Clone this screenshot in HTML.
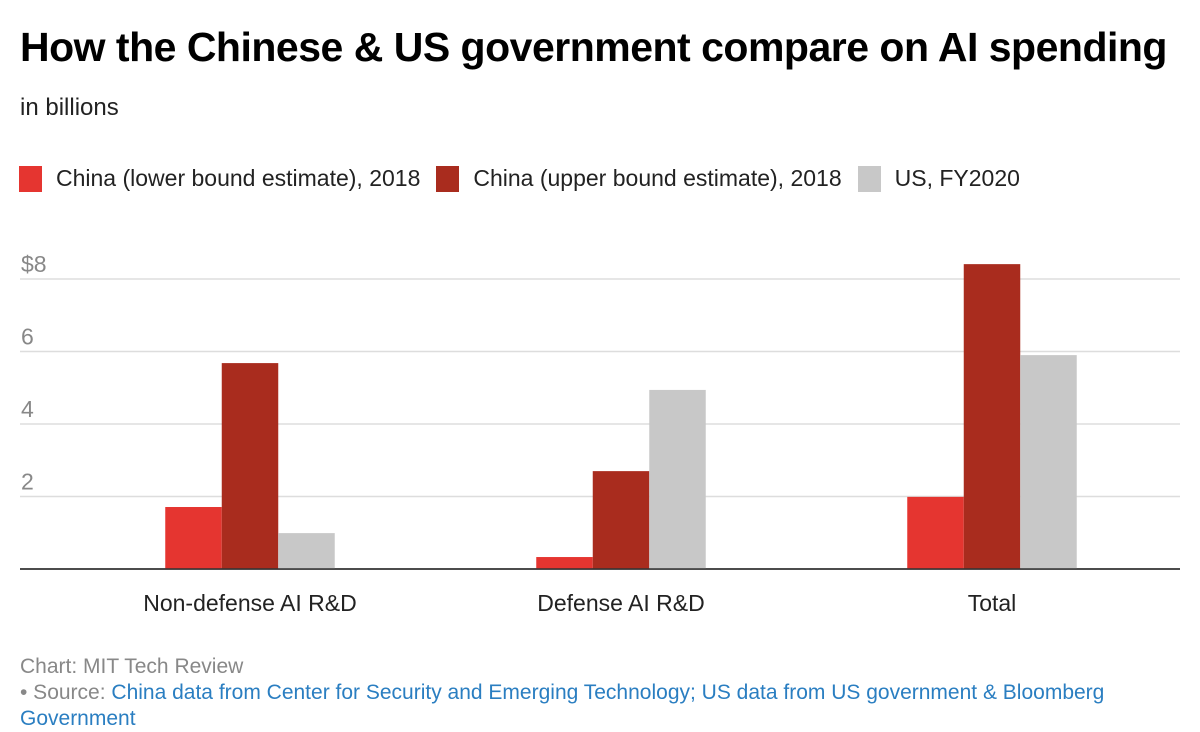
<!DOCTYPE html>
<html><head><meta charset="utf-8"><style>
body{margin:0;width:1200px;height:732px;background:#fff;font-family:"Liberation Sans",sans-serif;overflow:hidden;position:relative}
.t{position:absolute;white-space:nowrap}
</style></head><body>
<div class="t" style="left:20px;top:24px;font-size:41px;font-weight:bold;color:#000;letter-spacing:-0.5px">How the Chinese &amp; US government compare on AI spending</div>
<div class="t" style="left:20px;top:94px;font-size:24px;color:#222">in billions</div>
<div class="t" style="left:19px;top:165px;font-size:23px;color:#222;display:flex;align-items:center">
<span style="display:flex;align-items:center"><span style="width:23px;height:26px;background:#e53530;margin-right:14px"></span>China (lower bound estimate), 2018</span>
<span style="display:flex;align-items:center;margin-left:16px"><span style="width:23px;height:26px;background:#a92c1e;margin-right:14px"></span>China (upper bound estimate), 2018</span>
<span style="display:flex;align-items:center;margin-left:16px"><span style="width:23px;height:26px;background:#c8c8c8;margin-right:14px"></span>US, FY2020</span>
</div>
<svg id="chart" width="1200" height="732" style="position:absolute;left:0;top:0"></svg>
<div class="t" style="left:20px;top:655px;font-size:21px;color:#888">Chart: MIT Tech Review</div>
<div class="t" style="left:20px;top:680px;font-size:21px;color:#888;line-height:26px;white-space:normal;width:1120px">• Source: <span style="color:#2a7ec1">China data from Center for Security and Emerging Technology; US data from US government &amp; Bloomberg Government</span></div>
<script>
const categories=["Non-defense AI R&D","Defense AI R&D","Total"];
const chinaLower=[1.71,0.33,1.99];
const chinaUpper=[5.68,2.7,8.41];
const usValues=[0.99,4.94,5.9];
const ticks=[0,2,4,6,8];
const tickLabels=["","2","4","6","$8"];
const svg=document.getElementById('chart');
const NS="http://www.w3.org/2000/svg";
const y0=569,pxPer=36.25;
const yS=v=>y0-v*pxPer;
const xC=i=>250+i*371;
function mk(t,a){const e=document.createElementNS(NS,t);for(const k in a)e.setAttribute(k,a[k]);svg.appendChild(e);return e;}
ticks.forEach((t,i)=>{
 const l=mk('line',{x1:20,x2:1180,y1:yS(t),y2:yS(t),stroke:t===0?'#333':'#ddd','stroke-width':1.5});
 
 
 if(tickLabels[i]){const tx=mk('text',{x:21,y:yS(t)-7,'font-size':23,fill:'#888','font-family':'Liberation Sans, sans-serif'});tx.textContent=tickLabels[i];
 
 }
});
const series=[[chinaLower,'#e53530'],[chinaUpper,'#a92c1e'],[usValues,'#c8c8c8']];
const bw=56.5;
categories.forEach((c,i)=>{
 series.forEach((s,j)=>{
  const v=s[0][i];
  const r=mk('rect',{x:xC(i)-bw*1.5+j*bw,y:yS(v),width:bw,height:v*pxPer,fill:s[1]});
  
  
 });
 const tx=mk('text',{x:xC(i),y:611,'font-size':23,fill:'#222','text-anchor':'middle','font-family':'Liberation Sans, sans-serif'});
 tx.textContent=c;
 
 
});
mk('line',{x1:20,x2:1180,y1:y0,y2:y0,stroke:'#333','stroke-width':1.5});
</script>
</body></html>
